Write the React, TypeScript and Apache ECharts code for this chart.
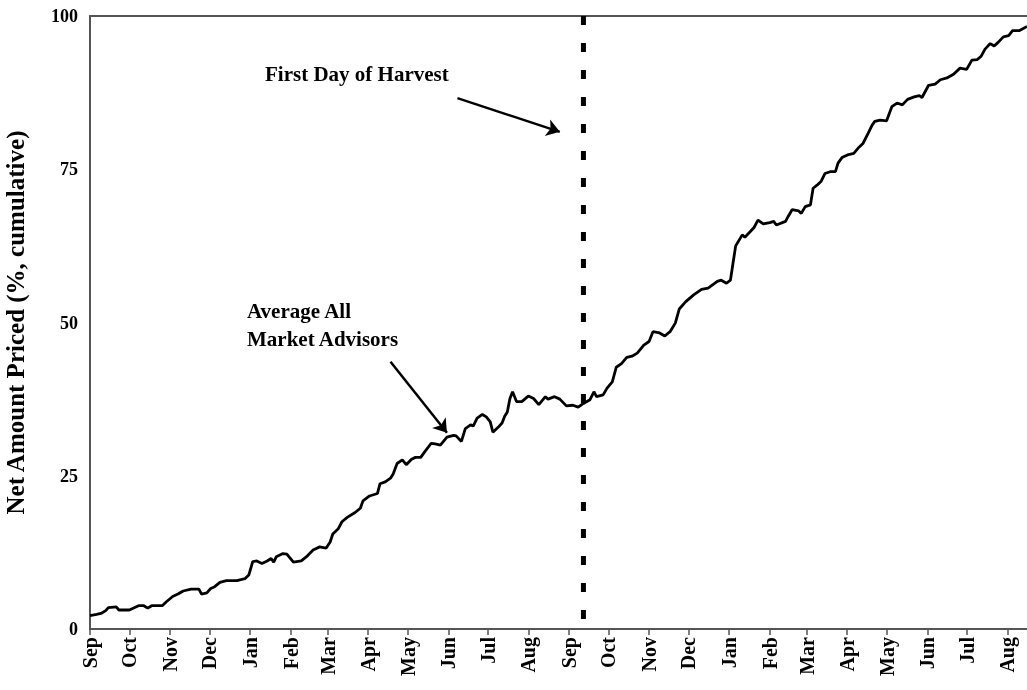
import React, { useEffect, useRef } from "react";
import * as echarts from "echarts";

// Days since Sep 1 of the first marketing year
const DAYS = [0,5,9,12,14,20,22,30,37,41,44,47,55,58,63,67,71,77,83,85,89,92,95,99,104,112,118,121,124,127,131,135,138,140,142,147,150,155,161,165,170,175,180,183,185,189,192,196,202,206,208,213,219,221,225,229,231,234,238,241,245,248,252,255,260,263,267,272,277,279,283,286,290,292,295,299,302,305,307,311,314,316,318,320,322,325,329,334,338,342,347,349,354,358,363,368,372,376,381,384,386,391,394,398,401,405,409,413,417,422,426,429,434,438,442,446,449,454,460,466,471,478,481,485,488,490,492,494,497,499,503,506,509,513,518,521,523,530,532,535,540,542,545,549,551,554,557,560,564,568,570,573,578,582,586,589,593,596,598,602,607,611,615,619,623,628,632,634,639,644,648,653,658,663,668,672,676,679,682,686,689,692,696,700,703,708,714];
const VALUES = [2.2,2.4,2.6,3.0,3.5,3.6,3.1,3.1,3.8,3.8,3.4,3.8,3.8,4.4,5.3,5.7,6.2,6.5,6.5,5.7,5.9,6.6,6.9,7.6,7.9,7.9,8.2,8.8,11.0,11.1,10.7,11.1,11.5,10.9,11.8,12.3,12.2,10.9,11.1,11.8,12.9,13.4,13.2,14.2,15.5,16.3,17.5,18.2,19.0,19.7,20.9,21.7,22.1,23.7,24.0,24.6,25.3,27.0,27.6,26.8,27.7,28.0,28.0,28.9,30.3,30.2,30.0,31.3,31.6,31.5,30.6,32.7,33.3,33.1,34.4,35.0,34.6,33.8,32.1,32.9,33.6,34.7,35.4,37.6,38.7,37.1,37.1,38.0,37.6,36.6,37.9,37.5,37.9,37.5,36.4,36.5,36.2,36.8,37.4,38.7,37.9,38.2,39.3,40.3,42.7,43.3,44.3,44.5,45.0,46.3,46.9,48.5,48.3,47.8,48.5,49.9,52.2,53.4,54.5,55.4,55.6,56.7,56.9,56.4,56.9,59.7,62.5,63.2,64.3,63.9,64.8,65.5,66.7,66.1,66.3,66.5,65.9,66.5,67.3,68.4,68.2,67.8,68.9,69.2,71.9,72.4,73.0,74.3,74.6,74.6,76.0,76.9,77.4,77.6,78.6,79.2,80.9,82.2,82.8,83.0,82.9,85.2,85.8,85.5,86.4,86.8,87.0,86.7,88.7,88.9,89.6,89.9,90.5,91.5,91.3,92.8,92.9,93.4,94.6,95.5,95.1,95.7,96.6,96.8,97.6,97.6,98.3];

const MONTH_DAYS = [0,30,61,91,122,153,181,212,242,273,303,334,365,395,426,456,487,518,546,577,607,638,668,699];
const MONTH_LABELS = ["Sep","Oct","Nov","Dec","Jan","Feb","Mar","Apr","May","Jun","Jul","Aug","Sep","Oct","Nov","Dec","Jan","Feb","Mar","Apr","May","Jun","Jul","Aug"];
const Y_TICKS = [0, 25, 50, 75, 100];

const HARVEST_DAY = 376;
const X_MAX = 714;

const FONT = "'Liberation Serif', 'Times New Roman', serif";
const AXIS_COLOR = "#555555";

export default function App() {
  const ref = useRef<HTMLDivElement>(null);
  useEffect(() => {
    if (!ref.current) return;
    const chart = echarts.init(ref.current, undefined, { renderer: "svg" });
    const labelMap: Record<number, string> = {};
    MONTH_DAYS.forEach((d, i) => (labelMap[d] = MONTH_LABELS[i]));
    chart.setOption({
      animation: false,
      grid: { left: 90, right: 0, top: 16, bottom: 61, containLabel: false, outerBoundsMode: "none" },
      xAxis: [
        {
          type: "value",
          min: 0,
          max: X_MAX,
          axisLine: { show: true, lineStyle: { color: AXIS_COLOR, width: 2 } },
          axisTick: { show: true, length: 6, lineStyle: { color: AXIS_COLOR, width: 1.5 }, customValues: MONTH_DAYS },
          axisLabel: {
            customValues: MONTH_DAYS,
            rotate: 90,
            margin: 8,
            formatter: (v: number) => labelMap[Math.round(v)] ?? "",
            fontFamily: FONT,
            fontWeight: "bold",
            fontSize: 20,
            color: "#000",
          },
          splitLine: { show: false },
        },
        {
          type: "value",
          position: "top",
          min: 0,
          max: X_MAX,
          axisLine: { show: true, lineStyle: { color: AXIS_COLOR, width: 2 } },
          axisTick: { show: false },
          axisLabel: { show: false },
          splitLine: { show: false },
        },
      ],
      yAxis: {
        type: "value",
        min: 0,
        max: 100,
        interval: 25,
        axisLine: { show: true, lineStyle: { color: AXIS_COLOR, width: 2 } },
        axisTick: { show: false },
        splitLine: { show: false },
        axisLabel: {
          margin: 12,
          fontFamily: FONT,
          fontWeight: "bold",
          fontSize: 18,
          color: "#000",
          formatter: (v: number) => (Y_TICKS.includes(v) ? String(v) : ""),
        },
        name: "Net Amount Priced (%, cumulative)",
        nameLocation: "middle",
        nameGap: 62,
        nameRotate: 90,
        nameTextStyle: { fontFamily: FONT, fontWeight: "bold", fontSize: 25, color: "#000" },
      },
      series: [
        {
          type: "line",
          data: DAYS.map((d, i) => [d, VALUES[i]]),
          symbol: "none",
          lineStyle: { color: "#000", width: 2.8 },
          markLine: {
            silent: true,
            symbol: ["none", "arrow"],
            symbolSize: 13,
            label: { show: false },
            lineStyle: { color: "#000", width: 2.5, type: "solid" },
            data: [
              [{ coord: [280, 86.6] }, { coord: [358, 81.1] }],
              [{ coord: [229, 43.6] }, { coord: [272, 32.0] }],
            ],
          },
        },
        {
          type: "line",
          data: [[HARVEST_DAY, 100], [HARVEST_DAY, 0]],
          symbol: "none",
          lineStyle: { color: "#000", width: 5, type: [9, 18] },
        },
      ],
      graphic: [
        {
          type: "text",
          left: 265,
          top: 63,
          style: { text: "First Day of Harvest", fontFamily: FONT, fontWeight: "bold", fontSize: 21, fill: "#000" },
        },
        {
          type: "text",
          left: 247,
          top: 297,
          style: { text: "Average All\nMarket Advisors", fontFamily: FONT, fontWeight: "bold", fontSize: 21, lineHeight: 28, fill: "#000" },
        },
      ],
    });
    return () => chart.dispose();
  }, []);
  return <div ref={ref} style={{ position: "fixed", left: 0, top: 0, width: 1027, height: 690 }} />;
}
